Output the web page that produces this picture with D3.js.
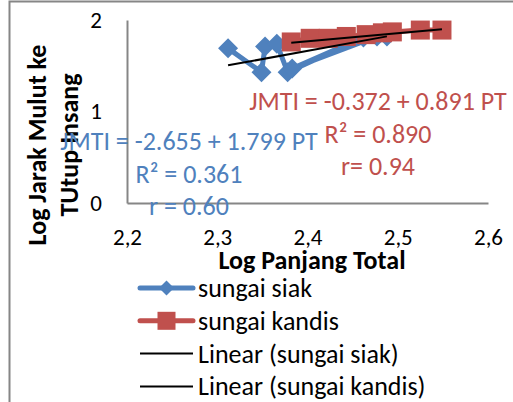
<!DOCTYPE html>
<html>
<head>
<meta charset="utf-8">
<script src="https://cdn.jsdelivr.net/npm/d3@7"></script>
<style>
  body { margin: 0; background: #fff; }
  svg { display: block; font-family: Carlito, Calibri, Lato, sans-serif; }
</style>
</head>
<body>
<div id="chart"></div>
<script>
// chart values
const xTicks = [2.2, 2.3, 2.4, 2.5, 2.6];
const yTicks = [0, 1, 2];

const siakX = [2.312, 2.349, 2.353, 2.366, 2.378, 2.462, 2.383, 2.477, 2.488];
const siakY = [1.69, 1.43, 1.71, 1.74, 1.43, 1.81, 1.47, 1.82, 1.82];

const kandisX = [2.382, 2.403, 2.423, 2.443, 2.465, 2.483, 2.494, 2.525, 2.549];
const kandisY = [1.76, 1.80, 1.80, 1.82, 1.84, 1.86, 1.87, 1.89, 1.89];

// intercept, slope
const siakFit = [-2.655, 1.799];
const kandisFit = [-0.372, 0.891];

const siakLabels = ['JMTI = -2.655 + 1.799 PT', 'R\u00b2 = 0.361', 'r = 0.60'];
const kandisLabels = ['JMTI = -0.372 + 0.891 PT', 'R\u00b2 = 0.890', 'r= 0.94'];

const legendNames = ['sungai siak', 'sungai kandis', 'Linear (sungai siak)', 'Linear (sungai kandis)'];

const blue = '#4f81bd', red = '#c0504d', axisGrey = '#868686';
const W = 513, H = 402;
const fontSize = 26;

const svg = d3.select('#chart').append('svg')
    .attr('width', W)
    .attr('height', H);

// chart frame (cut at right and bottom in the picture)
svg.append('rect')
   .attr('x', 9.5).attr('y', 1.5)
   .attr('width', W + 10).attr('height', H + 10)
   .attr('fill', '#fff')
   .attr('stroke', axisGrey)
   .attr('stroke-width', 2);

const xScale = d3.scaleLinear().domain([2.2, 2.6]).range([127, 488]);
const yScale = d3.scaleLinear().domain([0, 2]).range([203, 20]);

const commaFmt = d3.formatLocale({decimal: ',', thousands: '.', grouping: [3], currency: ['', '']}).format('.1f');

// axes
const xAxis = d3.axisBottom(xScale).tickValues(xTicks).tickFormat(commaFmt).tickSize(0);
const yAxis = d3.axisLeft(yScale).tickValues(yTicks).tickFormat(d3.format('d')).tickSize(0).tickPadding(25);

const gx = svg.append('g').attr('transform', `translate(0,${yScale(0)})`).call(xAxis);
const gy = svg.append('g').attr('transform', `translate(${xScale(2.2)},0)`).call(yAxis);

[gx, gy].forEach(g => {
    g.select('.domain').attr('stroke', axisGrey).attr('stroke-width', 2);
    g.selectAll('text').attr('font-size', 23).attr('fill', '#000')
     .attr('font-family', 'Carlito, Calibri, Lato, sans-serif');
});
gx.selectAll('text').attr('dy', null).attr('y', 42);

// axis titles
svg.append('text')
   .attr('x', 312).attr('y', 269)
   .attr('text-anchor', 'middle')
   .attr('font-weight', 'bold').attr('font-size', fontSize)
   .text('Log Panjang Total');

const yTitle = svg.append('text')
   .attr('transform', 'translate(0,145) rotate(-90)')
   .attr('text-anchor', 'middle')
   .attr('font-weight', 'bold').attr('font-size', fontSize);
yTitle.append('tspan').attr('x', 0).attr('y', 46).text('Log Jarak Mulut ke');
yTitle.append('tspan').attr('x', 0).attr('y', 78).text('TUtup Insang');

// series
const line = d3.line().x(d => xScale(d[0])).y(d => yScale(d[1]));
const siak = siakX.map((x, i) => [x, siakY[i]]);
const kandis = kandisX.map((x, i) => [x, kandisY[i]]);

svg.append('path').datum(siak)
   .attr('d', line).attr('fill', 'none')
   .attr('stroke', blue).attr('stroke-width', 5).attr('stroke-linejoin', 'round');
svg.selectAll('.siak').data(siak).enter()
   .append('path').attr('class', 'siak')
   .attr('d', d3.symbol(d3.symbolSquare, 200))
   .attr('transform', d => `translate(${xScale(d[0])},${yScale(d[1])}) rotate(45)`)
   .attr('fill', blue);

svg.append('path').datum(kandis)
   .attr('d', line).attr('fill', 'none')
   .attr('stroke', red).attr('stroke-width', 5).attr('stroke-linejoin', 'round');
svg.selectAll('.kandis').data(kandis).enter()
   .append('rect').attr('class', 'kandis')
   .attr('x', d => xScale(d[0]) - 9.5).attr('y', d => yScale(d[1]) - 9.5)
   .attr('width', 19).attr('height', 19)
   .attr('fill', red);

// linear trend lines, over each series' x range
function trend(xs, fit) {
    return d3.extent(xs).map(x => [x, fit[0] + fit[1] * x]);
}
[trend(siakX, siakFit), trend(kandisX, kandisFit)].forEach(t => {
    svg.append('path').datum(t)
       .attr('d', line).attr('fill', 'none')
       .attr('stroke', '#000').attr('stroke-width', 2);
});

// equation labels
function labelBlock(lines, cx, y0, color) {
    svg.append('g').selectAll('text').data(lines).enter()
       .append('text')
       .attr('x', cx).attr('y', (d, i) => y0 + i * 32.5)
       .attr('text-anchor', 'middle')
       .attr('font-size', fontSize).attr('fill', color)
       .text(d => d);
}
labelBlock(kandisLabels, 378, 110, red);
labelBlock(siakLabels, 189, 150, blue);

// legend
const legend = svg.append('g').selectAll('g').data(legendNames).enter()
   .append('g')
   .attr('transform', (d, i) => `translate(140,${288 + i * 32.8})`);
legend.append('line')
   .attr('x1', 0).attr('x2', 53)
   .attr('stroke', (d, i) => i === 0 ? blue : i === 1 ? red : '#000')
   .attr('stroke-width', (d, i) => i < 2 ? 5 : 2)
   .attr('stroke-linecap', (d, i) => i < 2 ? 'round' : 'butt');
legend.filter((d, i) => i === 0).append('path')
   .attr('d', d3.symbol(d3.symbolSquare, 112))
   .attr('transform', 'translate(26.5,0) rotate(45)')
   .attr('fill', blue);
legend.filter((d, i) => i === 1).append('rect')
   .attr('x', 26.5 - 9).attr('y', -9).attr('width', 18).attr('height', 18)
   .attr('fill', red);
legend.append('text')
   .attr('x', 58).attr('y', 9)
   .attr('font-size', fontSize).attr('fill', '#000')
   .text(d => d);
</script>
</body>
</html>
